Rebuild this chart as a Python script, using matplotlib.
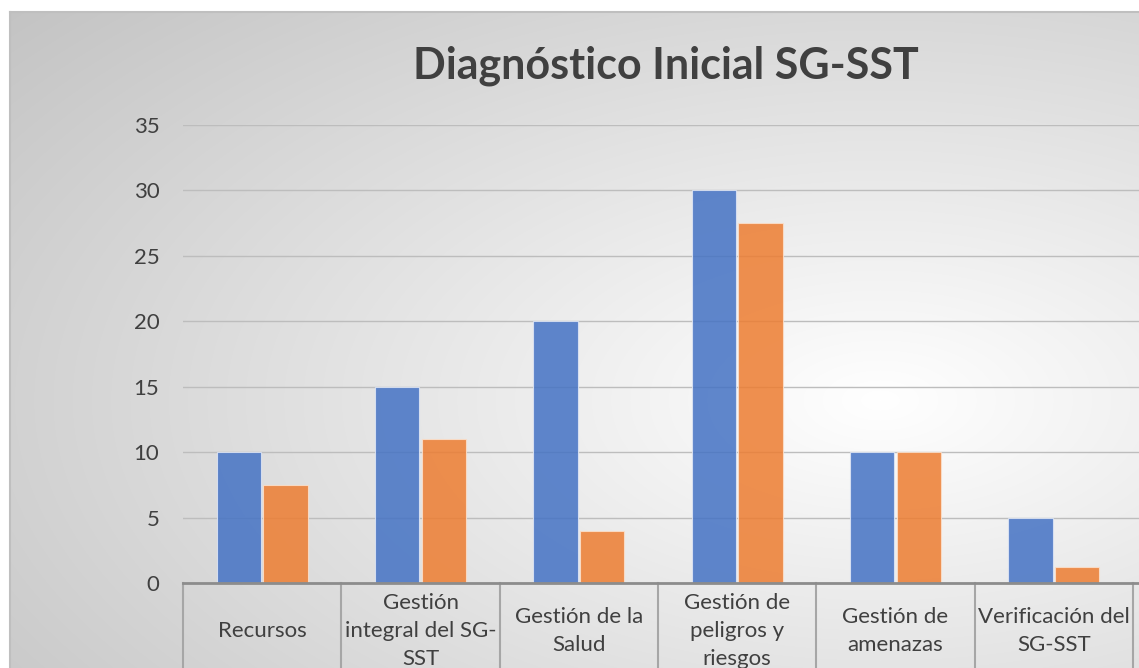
import numpy as np
import matplotlib
matplotlib.use('Agg')
import matplotlib.pyplot as plt
from matplotlib.lines import Line2D

categorias = ['Recursos', 'Gestión\nintegral del SG-\nSST', 'Gestión de la\nSalud',
              'Gestión de\npeligros y\nriesgos', 'Gestión de\namenazas', 'Verificación del\nSG-SST']
serie_1 = [10, 15, 20, 30, 10, 5]
serie_2 = [7.5, 11, 4, 27.5, 10, 1.2]
y_ticks = [0, 5, 10, 15, 20, 25, 30, 35]

plt.rcParams['font.family'] = ['Lato', 'DejaVu Sans']

W, H = 1139, 668
fig = plt.figure(figsize=(W / 100, H / 100), dpi=100)
fig.patch.set_facecolor('white')

# fondo con degradado radial (zona del grafico)
x0, y0 = 10, 12
bg = fig.add_axes([x0 / W, 0, 1 - x0 / W, 1 - y0 / H], zorder=0)
xx, yy = np.meshgrid(np.arange(x0, W), np.arange(y0, H))
d = np.sqrt(((xx - 880) / 1000.0) ** 2 + ((yy - 400) / 520.0) ** 2)
g = np.clip(255 - 52 * d, 190, 255) / 255.0
bg.imshow(np.dstack([g, g, g]), aspect='auto', interpolation='bilinear')
bg.set_axis_off()
fig.add_artist(Line2D([x0 / W, 1], [1 - y0 / H] * 2, color='#bfbfbf', lw=1.5))
fig.add_artist(Line2D([x0 / W] * 2, [0, 1 - y0 / H], color='#bfbfbf', lw=1.5))

# el area de trazado sigue un poco mas alla del borde derecho
ax = fig.add_axes([183 / W, 85 / H, (W - 183) / W, (583 - 125) / H], zorder=1)
ax.patch.set_alpha(0)

x = np.arange(len(categorias))
w = 0.28
ax.bar(x - w / 2 - 0.007, serie_1, w, color='#4472C4', alpha=0.85, edgecolor='#dfe6f5', linewidth=0.8, zorder=3)
ax.bar(x + w / 2 + 0.007, serie_2, w, color='#ED7D31', alpha=0.85, edgecolor='#fbe0cc', linewidth=0.8, zorder=3)

cat_px = (1133 - 183) / len(categorias)
ax.set_xlim(-0.5, len(categorias) - 0.5 + (W - 1133) / cat_px)
ax.set_ylim(0, 35)
ax.set_yticks(y_ticks)
ax.yaxis.grid(True, color='#bdbdbd', lw=1, zorder=1)
ax.tick_params(axis='y', length=0, labelsize=16, labelcolor='#404040', pad=17)
ax.set_xticks([])
for s in ['top', 'right', 'left']:
    ax.spines[s].set_visible(False)
ax.spines['bottom'].set_color('#8c8c8c')
ax.spines['bottom'].set_linewidth(2)
ax.spines['bottom'].set_zorder(4)

# tabla de categorias bajo el eje
for b in np.arange(-0.5, len(categorias), 1.0):
    ax.plot([b, b], [0, -8], color='#a6a6a6', lw=1.5, clip_on=False)
for i, c in enumerate(categorias):
    ax.text(i, -3.7, c, ha='center', va='center', fontsize=16, color='#404040',
            linespacing=1.5, clip_on=False)

fig.text(666 / W, 1 - 66 / H, 'Diagnóstico Inicial SG-SST', ha='center', va='center',
         fontsize=31, fontweight='bold', color='#404040')

fig.savefig('out.png', dpi=100)
